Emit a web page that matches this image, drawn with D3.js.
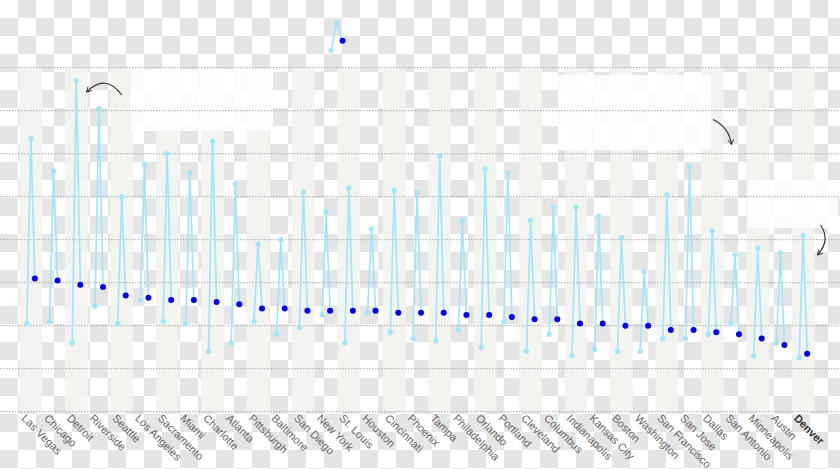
<!DOCTYPE html>
<html>
<head>
<meta charset="utf-8">
<script src="https://cdnjs.cloudflare.com/ajax/libs/d3/7.8.5/d3.min.js"></script>
<style>
  html, body { margin: 0; padding: 0; background: #fff; }
  svg { display: block; }
</style>
</head>
<body>
<svg id="chart" width="840" height="469"></svg>
<script>
const cities = ["Las Vegas","Chicago","Detroit","Riverside","Seattle","Los Angeles","Sacramento","Miami","Charlotte","Atlanta","Pittsburgh","Baltimore","San Diego","New York","St. Louis","Houston","Cincinnati","Phoenix","Tampa","Philadelphia","Orlando","Portland","Cleveland","Columbus","Indianapolis","Kansas City","Boston","Washington","San Francisco","San Jose","Dallas","San Antonio","Minneapolis","Austin","Denver"];
const lowValues     = [4.1,4.2,3.2,4.9,4.1,5.2,4.2,4.1,2.8,3.2,4.2,3.6,3.9,4.5,3.2,4.6,3.7,3.4,3.3,3.8,3.0,4.2,2.8,3.6,2.6,2.9,2.8,2.8,3.4,3.4,3.6,4.1,2.6,3.2,2.5];
const highValues    = [12.7,11.2,15.4,14.1,10.0,11.5,12.0,11.1,12.6,10.6,7.8,8.0,10.2,9.3,10.4,8.5,10.3,10.2,11.9,8.9,11.3,11.1,8.9,9.5,9.5,9.1,8.1,6.5,10.1,11.4,8.4,7.3,7.6,7.4,8.2];
const currentValues = [6.2,6.1,5.9,5.8,5.4,5.3,5.2,5.2,5.1,5.0,4.8,4.8,4.7,4.7,4.7,4.7,4.6,4.6,4.6,4.5,4.5,4.4,4.3,4.3,4.1,4.1,4.0,4.0,3.8,3.8,3.7,3.6,3.4,3.1,2.7];
const yTicks = [0,2,4,6,8,10,12,14,16];
const legendValues = [16.8, 18.1, 17.25];
const highlightCity = "Denver";

const W = 840, H = 469;
const svg = d3.select("#chart");
const LIGHT = "#a3e5fa", DARK = "#0000f0";

// checkerboard background
const defs = svg.append("defs");
const pat = defs.append("pattern").attr("id","checker").attr("patternUnits","userSpaceOnUse")
  .attr("width",36).attr("height",36);
pat.append("rect").attr("width",36).attr("height",36).attr("fill","#ffffff");
pat.append("rect").attr("x",18).attr("y",0).attr("width",18).attr("height",18).attr("fill","#e5e5e5");
pat.append("rect").attr("x",0).attr("y",18).attr("width",18).attr("height",18).attr("fill","#e5e5e5");
svg.append("rect").attr("width",W).attr("height",H).attr("fill","url(#checker)");

const marker = defs.append("marker").attr("id","arrowhead").attr("viewBox","0 0 10 10")
  .attr("refX",8).attr("refY",5).attr("markerWidth",7).attr("markerHeight",7)
  .attr("orient","auto-start-reverse").attr("markerUnits","userSpaceOnUse");
marker.append("path").attr("d","M1,1 L8,5 L1,9").attr("fill","none").attr("stroke","#333").attr("stroke-width",1.3);

const x = d3.scaleBand().domain(cities).range([19.5, 814.5]).padding(0);
const y = d3.scaleLinear().domain([0,16]).range([411.7, 67.7]);
const inner = d3.scalePoint().domain(["low","high","current"]).range([-4, 4]);
const cx = c => x(c) + x.bandwidth()/2;

// alternating bands
svg.append("g").selectAll("rect")
  .data(cities.filter((c,i) => i % 2 === 0))
  .join("rect")
  .attr("x", d => x(d)).attr("width", x.bandwidth())
  .attr("y", y(16)).attr("height", y(0) - y(16))
  .attr("fill", "#f3f3ef").attr("opacity", 0.92);

// annotation boxes (text empty in reference)
const boxes = [
  {x0: 131, y0: 69, x1: 273, y1: 131},
  {x0: 558, y0: 75, x1: 711, y1: 150},
  {x0: 748, y0: 180, x1: 838, y1: 228}
];
svg.append("g").selectAll("rect").data(boxes).join("rect")
  .attr("x", d => d.x0).attr("y", d => d.y0)
  .attr("width", d => d.x1 - d.x0).attr("height", d => d.y1 - d.y0)
  .attr("fill", "#fff").attr("opacity", 0.85);

// gridlines
svg.append("g").selectAll("line").data(yTicks).join("line")
  .attr("x1", 0).attr("x2", W)
  .attr("y1", d => y(d)).attr("y2", d => y(d))
  .attr("stroke", "#a8a8a8").attr("stroke-width", 1)
  .attr("stroke-dasharray", "1.5,1.5");

// series
const rows = cities.map((c,i) => ({city: c, pts: [
  {k:"low", v: lowValues[i]}, {k:"high", v: highValues[i]}, {k:"current", v: currentValues[i]}
]}));
const line = d3.line().x(d => d.x).y(d => d.y);
const g = svg.append("g");
rows.forEach(r => {
  const p = r.pts.map(d => ({k: d.k, x: cx(r.city) + inner(d.k), y: y(d.v)}));
  g.append("path").attr("d", line(p)).attr("fill","none").attr("stroke", LIGHT).attr("stroke-width", 1.7);
  g.selectAll(null).data(p.filter(d => d.k !== "current")).join("circle")
    .attr("cx", d => d.x).attr("cy", d => d.y).attr("r", 2.6).attr("fill", LIGHT);
  g.selectAll(null).data(p.filter(d => d.k === "current")).join("circle")
    .attr("cx", d => d.x).attr("cy", d => d.y).attr("r", 3).attr("fill", DARK);
});

// legend glyph
const legX = d3.scalePoint().domain(["low","high","current"]).range([331, 342.5]);
const lp = ["low","high","current"].map((k,i) => ({k, x: legX(k), y: y(legendValues[i])}));
svg.append("path").attr("d", line(lp)).attr("fill","none").attr("stroke", LIGHT).attr("stroke-width", 1.7);
svg.selectAll(null).data(lp).join("circle")
  .attr("cx", d => d.x).attr("cy", d => d.y)
  .attr("r", d => d.k === "current" ? 3 : 2.6)
  .attr("fill", d => d.k === "current" ? DARK : LIGHT);

// arrows
const arrows = ["M121.7,95 Q106,73 86.5,92", "M713,119.5 Q729,127 731.5,144.5", "M820.5,225 Q831,240 817.5,255"];
svg.append("g").selectAll("path").data(arrows).join("path")
  .attr("d", d => d).attr("fill","none").attr("stroke","#333").attr("stroke-width",1.2)
  .attr("marker-end","url(#arrowhead)");

// x labels
svg.append("g").selectAll("text").data(cities).join("text")
  .attr("transform", d => `translate(${cx(d) - 10},${419}) rotate(45)`)
  .attr("font-family", "'Liberation Sans', Arial, Helvetica, sans-serif")
  .attr("font-size", 11)
  .attr("font-weight", d => d === highlightCity ? "bold" : "normal")
  .attr("fill", d => d === highlightCity ? "#333" : "#666")
  .text(d => d);
</script>
</body>
</html>
